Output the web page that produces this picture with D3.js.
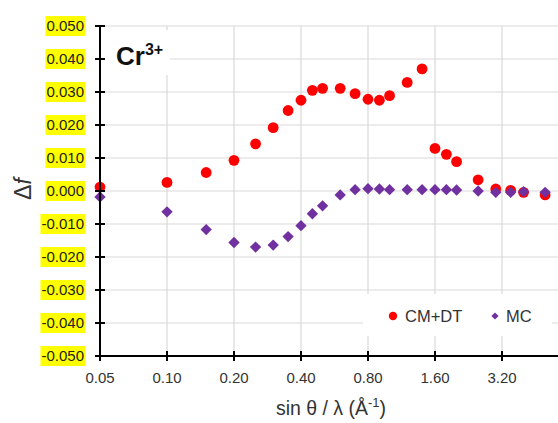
<!DOCTYPE html>
<html><head><meta charset="utf-8">
<script src="https://cdn.jsdelivr.net/npm/d3@7"></script>
<style>body{margin:0;background:#fff}svg{display:block}text{font-family:"Liberation Sans",Arial,sans-serif}</style>
</head><body><svg id="c" width="558" height="423"></svg>
<script>
const xValues = [0.05,0.10,0.15,0.20,0.25,0.30,0.35,0.40,0.45,0.50,0.60,0.70,0.80,0.90,1.00,1.20,1.40,1.60,1.80,2.00,2.50,3.00,3.50,4.00,5.00];
const cmdt = [0.0012,0.0026,0.0056,0.0093,0.0143,0.0192,0.0244,0.0275,0.0305,0.0311,0.0311,0.0295,0.0278,0.0275,0.0289,0.0329,0.0370,0.0129,0.0111,0.0089,0.0034,0.0006,0.0002,-0.0004,-0.0012];
const mc = [-0.0018,-0.0063,-0.0117,-0.0156,-0.0170,-0.0164,-0.0138,-0.0105,-0.0069,-0.0045,-0.0012,0.0004,0.0007,0.0006,0.0004,0.0004,0.0004,0.0004,0.0004,0.0003,0.0000,-0.0004,-0.0004,-0.0002,-0.0004];
const xTicks = [0.05,0.10,0.20,0.40,0.80,1.60,3.20];
const yTicks = [-0.05,-0.04,-0.03,-0.02,-0.01,0,0.01,0.02,0.03,0.04,0.05];
const seriesNames = ["CM+DT","MC"];

const svg = d3.select("#c");
const x = d3.scaleLog().base(2).domain([0.05,6.4]).range([100,569]);
const y = d3.scaleLinear().domain([-0.05,0.05]).range([356,26]);

// gridlines
const grid = svg.append("g").attr("stroke","#d9d9d9").attr("stroke-width",1.2);
grid.selectAll("line.h").data(yTicks).join("line").attr("class","h")
  .attr("x1",100).attr("x2",569).attr("y1",d=>y(d)).attr("y2",d=>y(d));
grid.selectAll("line.v").data(xTicks.slice(1)).join("line").attr("class","v")
  .attr("x1",d=>x(d)).attr("x2",d=>x(d)).attr("y1",26).attr("y2",356);

// title box
svg.append("rect").attr("x",102).attr("y",30).attr("width",68).attr("height",45).attr("fill","#fff");
const t = svg.append("text").attr("x",116).attr("y",65).attr("font-weight","bold").attr("font-size",26).attr("fill","#111");
t.append("tspan").text("Cr");
t.append("tspan").attr("font-size",16).attr("dy",-10).text("3+");

// legend box
svg.append("rect").attr("x",363).attr("y",294).attr("width",189).attr("height",42).attr("fill","#fff");

// points
const data1 = xValues.map((v,i)=>({x:v,y:cmdt[i]}));
const data2 = xValues.map((v,i)=>({x:v,y:mc[i]}));
svg.append("g").selectAll("circle").data(data1).join("circle")
  .attr("cx",d=>x(d.x)).attr("cy",d=>y(d.y)).attr("r",5.4).attr("fill","#ff0000");
svg.append("g").selectAll("path").data(data2).join("path")
  .attr("transform",d=>`translate(${x(d.x)},${y(d.y)}) rotate(45)`)
  .attr("d",d3.symbol().type(d3.symbolSquare).size(64)).attr("fill","#7030a0");

// axes
const yAxis = svg.append("g").attr("transform","translate(100,0)");
yAxis.append("line").attr("x1",0).attr("x2",0).attr("y1",26).attr("y2",357).attr("stroke","#000").attr("stroke-width",2);
yAxis.selectAll("line.t").data(yTicks).join("line").attr("class","t")
  .attr("x1",-5).attr("x2",5).attr("y1",d=>y(d)).attr("y2",d=>y(d)).attr("stroke","#000").attr("stroke-width",2);
const fmt = d3.format(".3f");
const lbl = yAxis.selectAll("g.l").data(yTicks).join("g").attr("class","l");
lbl.each(function(d){
  const g = d3.select(this);
  const tx = g.append("text").attr("x",-16).attr("y",y(d)).attr("dy","0.36em").attr("text-anchor","end")
    .attr("font-size",15).attr("fill","#222").text(d<0?"-"+fmt(-d):fmt(d));
  const b = tx.node().getBBox();
  g.insert("rect","text").attr("x",b.x-1).attr("y",y(d)-10).attr("width",b.width+2).attr("height",20).attr("fill","#ffff00");
});

const xAxis = svg.append("g");
xAxis.append("line").attr("x1",99).attr("x2",569).attr("y1",356).attr("y2",356).attr("stroke","#000").attr("stroke-width",2);
xAxis.selectAll("line.t").data(xTicks).join("line").attr("class","t")
  .attr("x1",d=>x(d)).attr("x2",d=>x(d)).attr("y1",351).attr("y2",361).attr("stroke","#000").attr("stroke-width",2);
xAxis.selectAll("text").data(xTicks).join("text").attr("x",d=>x(d)).attr("y",383).attr("text-anchor","middle")
  .attr("font-size",15).attr("fill","#333").text(d=>d3.format(".2f")(d));

// axis titles
const xt = svg.append("text").attr("x",331).attr("y",415).attr("text-anchor","middle").attr("font-size",19.5).attr("fill","#333");
xt.append("tspan").text("sin θ / λ (Å");
xt.append("tspan").attr("font-size",13).attr("dy",-8).text("-1");
xt.append("tspan").attr("dy",8).text(")");
const yt = svg.append("text").attr("transform","translate(31,189) rotate(-90)").attr("text-anchor","middle").attr("font-size",23).attr("fill","#333");
yt.append("tspan").text("Δ");
yt.append("tspan").attr("font-style","italic").text("f");

// legend
svg.append("circle").attr("cx",393).attr("cy",316).attr("r",4.2).attr("fill","#ff0000");
svg.append("text").attr("x",405).attr("y",322).attr("font-size",16.5).attr("fill","#333").text(seriesNames[0]);
svg.append("path").attr("transform","translate(495,316) rotate(45)").attr("d",d3.symbol().type(d3.symbolSquare).size(26)).attr("fill","#7030a0");
svg.append("text").attr("x",506).attr("y",322).attr("font-size",16.5).attr("fill","#333").text(seriesNames[1]);
</script></body></html>
